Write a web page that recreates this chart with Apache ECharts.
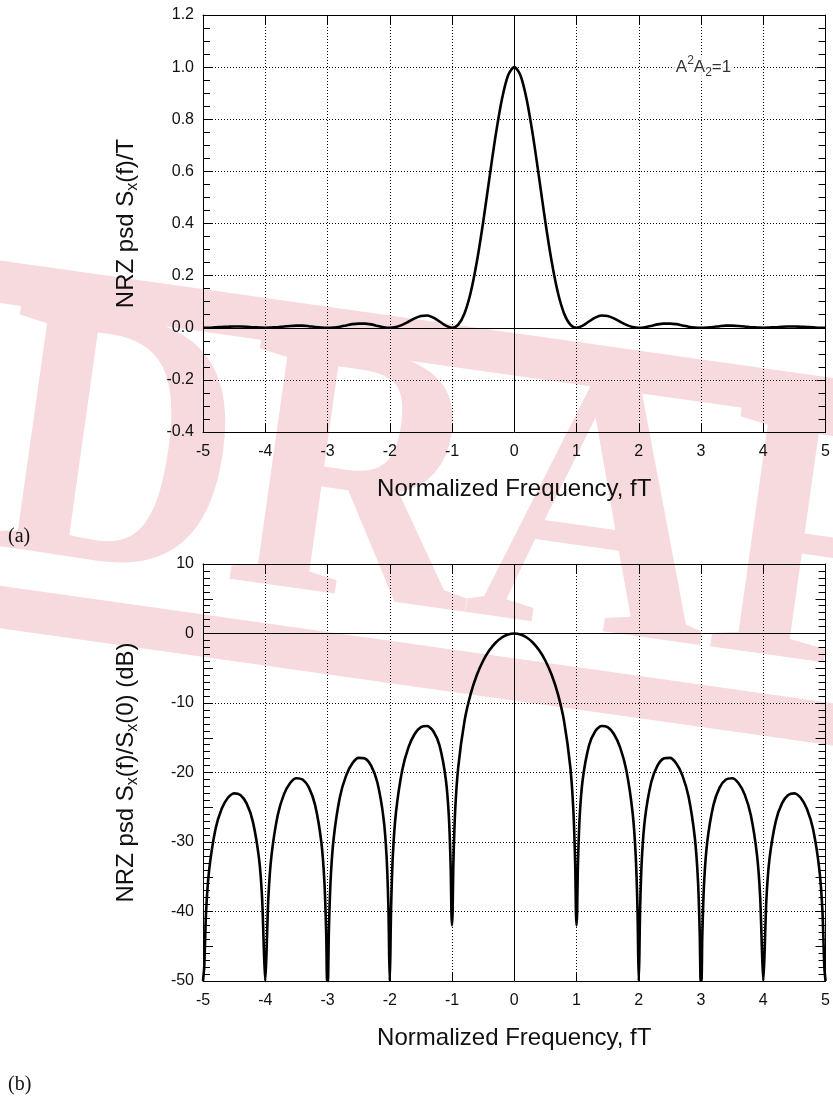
<!DOCTYPE html>
<html>
<head>
<meta charset="utf-8">
<title>NRZ power spectral density</title>
<script src="https://cdn.jsdelivr.net/npm/echarts@6/dist/echarts.min.js"></script>
<style>
  html, body { margin: 0; padding: 0; background: #fff; }
  #chart { width: 833px; height: 1097px; }
</style>
</head>
<body>
<div id="chart"></div>
<script>
// ---- data -------------------------------------------------------------
// (a) linear psd, sampled every 0.1 in fT
const freqLin = [
  -5.0,-4.9,-4.8,-4.7,-4.6,-4.5,-4.4,-4.3,-4.2,-4.1,
  -4.0,-3.9,-3.8,-3.7,-3.6,-3.5,-3.4,-3.3,-3.2,-3.1,
  -3.0,-2.9,-2.8,-2.7,-2.6,-2.5,-2.4,-2.3,-2.2,-2.1,
  -2.0,-1.9,-1.8,-1.7,-1.6,-1.5,-1.4,-1.3,-1.2,-1.1,
  -1.0,-0.9,-0.8,-0.7,-0.6,-0.5,-0.4,-0.3,-0.2,-0.1,
  0.0,
  0.1,0.2,0.3,0.4,0.5,0.6,0.7,0.8,0.9,1.0,
  1.1,1.2,1.3,1.4,1.5,1.6,1.7,1.8,1.9,2.0,
  2.1,2.2,2.3,2.4,2.5,2.6,2.7,2.8,2.9,3.0,
  3.1,3.2,3.3,3.4,3.5,3.6,3.7,3.8,3.9,4.0,
  4.1,4.2,4.3,4.4,4.5,4.6,4.7,4.8,4.9,5.0
];
const psdLin = [
  0.000,0.000,0.002,0.003,0.004,0.005,0.005,0.004,0.002,0.001,
  0.000,0.001,0.002,0.005,0.007,0.008,0.008,0.006,0.003,0.001,
  0.000,0.001,0.004,0.009,0.014,0.016,0.016,0.013,0.007,0.002,
  0.000,0.003,0.011,0.023,0.036,0.045,0.047,0.039,0.024,0.008,
  0.000,0.012,0.055,0.135,0.255,0.405,0.573,0.737,0.875,0.968,
  1.000,
  0.968,0.875,0.737,0.573,0.405,0.255,0.135,0.055,0.012,0.000,
  0.008,0.024,0.039,0.047,0.045,0.036,0.023,0.011,0.003,0.000,
  0.002,0.007,0.013,0.016,0.016,0.014,0.009,0.004,0.001,0.000,
  0.001,0.003,0.006,0.008,0.008,0.007,0.005,0.002,0.001,0.000,
  0.001,0.002,0.004,0.005,0.005,0.004,0.003,0.002,0.000,0.000
];

// (b) psd in dB, denser near the nulls
const freqDb = [
  -5.0,-4.98,-4.95,-4.9,
  -4.8,-4.7,-4.6,-4.5,-4.4,-4.3,-4.2,-4.1,
  -4.05,-4.02,-4.0,-3.98,-3.95,
  -3.9,-3.8,-3.7,-3.6,-3.5,-3.4,-3.3,-3.2,-3.1,
  -3.05,-3.02,-3.01,-3.0,-2.99,-2.98,-2.95,
  -2.9,-2.8,-2.7,-2.6,-2.5,-2.4,-2.3,-2.2,-2.1,
  -2.05,-2.02,-2.01,-2.0,-1.99,-1.98,-1.95,
  -1.9,-1.8,-1.7,-1.6,-1.5,-1.4,-1.3,-1.2,-1.1,
  -1.05,-1.02,-1.01,-1.0,-0.99,-0.98,-0.95,
  -0.9,-0.8,-0.7,-0.6,-0.5,-0.4,-0.3,-0.2,-0.1,
  0.0,
  0.1,0.2,0.3,0.4,0.5,0.6,0.7,0.8,0.9,
  0.95,0.98,0.99,1.0,1.01,1.02,1.05,
  1.1,1.2,1.3,1.4,1.5,1.6,1.7,1.8,1.9,
  1.95,1.98,1.99,2.0,2.01,2.02,2.05,
  2.1,2.2,2.3,2.4,2.5,2.6,2.7,2.8,2.9,
  2.95,2.98,2.99,3.0,3.01,3.02,3.05,
  3.1,3.2,3.3,3.4,3.5,3.6,3.7,3.8,3.9,
  3.95,3.98,4.0,4.02,4.05,
  4.1,4.2,4.3,4.4,4.5,4.6,4.7,4.8,
  4.9,4.95,4.98,5.0
];
const psdDb = [
  -50,-47.93,-39.95,-33.95,
  -28.18,-25.23,-23.63,-23.01,-23.25,-24.45,-27.03,-32.40,
  -38.21,-46.07,-50,-45.98,-37.99,
  -31.96,-26.16,-23.15,-21.51,-20.82,-21.01,-22.15,-24.66,-29.96,
  -35.74,-43.59,-49.57,-50,-49.51,-43.47,-35.45,
  -29.39,-23.50,-20.41,-18.68,-17.90,-17.98,-19.02,-21.41,-26.59,
  -32.29,-40.09,-46.07,-50,-45.98,-39.92,-31.86,
  -25.72,-19.67,-16.39,-14.46,-13.47,-13.30,-14.06,-16.14,-20.97,
  -26.48,-34.16,-40.09,-42,-39.92,-33.81,-25.61,
  -19.23,-12.62,-8.69,-5.94,-3.92,-2.42,-1.33,-0.58,-0.14,
  0,
  -0.14,-0.58,-1.33,-2.42,-3.92,-5.94,-8.69,-12.62,-19.23,
  -25.61,-33.81,-39.92,-42,-40.09,-34.16,-26.48,
  -20.97,-16.14,-14.06,-13.30,-13.47,-14.46,-16.39,-19.67,-25.72,
  -31.86,-39.92,-45.98,-50,-46.07,-40.09,-32.29,
  -26.59,-21.41,-19.02,-17.98,-17.90,-18.68,-20.41,-23.50,-29.39,
  -35.45,-43.47,-49.51,-50,-49.57,-43.59,-35.74,
  -29.96,-24.66,-22.15,-21.01,-20.82,-21.51,-23.15,-26.16,-31.96,
  -37.99,-45.98,-50,-46.07,-38.21,
  -32.40,-27.03,-24.45,-23.25,-23.01,-23.63,-25.23,-28.18,
  -33.95,-39.95,-47.93,-50
];

// axis ranges and annotation
const freqRange = [-5, 5];
const linRange = [-0.4, 1.2];
const dbRange = [-50, 10];
const noteAt = [3.04, 1.0];

// ---- styling helpers --------------------------------------------------
const SANS = '"Liberation Sans", Arial, sans-serif';
const SERIF = '"Liberation Serif", "Times New Roman", serif';
const INK = '#111';
const dotted = { color: '#000', width: 1, type: [1, 2] };

function zip(xs, ys) { return xs.map((x, i) => [x, ys[i]]); }

function xAxisPair(grid, name) {
  const base = {
    gridIndex: grid, type: 'value', min: freqRange[0], max: freqRange[1], interval: 1,
    axisLine: { show: true, onZero: false, lineStyle: { color: '#000', width: 1 } },
    axisTick: { show: true, inside: true, length: 9, lineStyle: { color: '#000', width: 1 } }
  };
  return [
    Object.assign({}, base, {
      position: 'bottom',
      axisLabel: { show: true, margin: 12, fontSize: 16, color: INK, fontFamily: SANS },
      splitLine: { show: true, lineStyle: dotted },
      name: name, nameLocation: 'middle', nameGap: 45,
      nameTextStyle: { fontSize: 24, color: INK, fontFamily: SANS }
    }),
    Object.assign({}, base, {
      position: 'top',
      axisLabel: { show: false }, splitLine: { show: false }
    })
  ];
}

function yAxisSet(grid, range, interval, minorSplit, fmt, name, rich) {
  const base = {
    gridIndex: grid, type: 'value', min: range[0], max: range[1], interval: interval,
    axisLine: { show: true, onZero: false, lineStyle: { color: '#000', width: 1 } },
    axisTick: { show: true, inside: true, length: 9, lineStyle: { color: '#000', width: 1 } },
    minorTick: { show: true, splitNumber: minorSplit, length: 7, lineStyle: { color: '#000', width: 1 } }
  };
  return [
    Object.assign({}, base, {
      position: 'left',
      axisLabel: { show: true, margin: 9, fontSize: 16, color: INK, fontFamily: SANS, formatter: fmt },
      splitLine: { show: true, lineStyle: dotted },
      name: name, nameLocation: 'middle', nameRotate: 90, nameGap: 62,
      nameTextStyle: { rich: rich }
    }),
    Object.assign({}, base, {
      position: 'right',
      axisLabel: { show: false }, splitLine: { show: false }
    })
  ];
}

function titleRich() {
  return {
    n: { fontSize: 24, color: INK, fontFamily: SANS, lineHeight: 30 },
    s: { fontSize: 16, color: INK, fontFamily: SANS, verticalAlign: 'bottom', lineHeight: 20 }
  };
}

// mid-decade ticks (every 5 dB) on both sides of the dB panel
function midTicks(grid, side) {
  return {
    gridIndex: grid, type: 'value', position: side, min: dbRange[0], max: dbRange[1], interval: 5,
    axisLine: { show: false, onZero: false },
    axisTick: { show: true, inside: true, length: 10, lineStyle: { color: '#000', width: 1 } },
    axisLabel: { show: false }, splitLine: { show: false }
  };
}

const zeroLines = {
  silent: true, symbol: ['none', 'none'], label: { show: false },
  lineStyle: { color: '#000', width: 1, type: 'solid' },
  emphasis: { disabled: true },
  data: [{ xAxis: 0 }, { yAxis: 0 }]
};

const curveStyle = { color: '#000', width: 2.6 };

// ---- DRAFT stamp drawn behind everything ------------------------------
const stampColor = '#f6dadd';
const stamp = {
  type: 'group', x: 430, y: 505, rotation: -0.14, z: -100, silent: true,
  children: [
    {
      type: 'rect', z: -100,
      shape: { x: -800, y: -161, width: 1600, height: 322, r: 20 },
      style: { fill: 'none', stroke: stampColor, lineWidth: 42 }
    },
    {
      type: 'text', z: -100, x: 140, y: 4, scaleX: 1.12, scaleY: 1.25,
      style: {
        text: 'DRAFT', fill: stampColor, font: 'bold 300px ' + SERIF,
        align: 'center', verticalAlign: 'middle'
      }
    }
  ]
};

const chart = echarts.init(document.getElementById('chart'), null, { renderer: 'canvas' });

chart.setOption({
  animation: false,
  backgroundColor: '#fff',
  grid: [
    { left: 203, right: 4, top: 15, height: 417, containLabel: false },
    { left: 203, right: 4, top: 564, height: 417, containLabel: false }
  ],
  xAxis: [].concat(
    xAxisPair(0, 'Normalized Frequency, fT'),
    xAxisPair(1, 'Normalized Frequency, fT')
  ),
  yAxis: [].concat(
    yAxisSet(0, linRange, 0.2, 4, v => v.toFixed(1),
      '{n|NRZ psd S}{s|x}{n|(f)/T}', titleRich()),
    yAxisSet(1, dbRange, 10, 10, v => String(v),
      '{n|NRZ psd S}{s|x}{n|(f)/S}{s|x}{n|(0) (dB)}', titleRich()),
    [midTicks(1, 'left'), midTicks(1, 'right')]
  ),
  graphic: {
    elements: [
      stamp,
      { type: 'text', left: 8, top: 527, z: 10,
        style: { text: '(a)', font: '20px ' + SERIF, fill: INK } },
      { type: 'text', left: 8, top: 1075, z: 10,
        style: { text: '(b)', font: '20px ' + SERIF, fill: INK } }
    ]
  },
  series: [
    {
      type: 'line', xAxisIndex: 0, yAxisIndex: 0,
      data: zip(freqLin, psdLin), showSymbol: false, smooth: 0.3,
      lineStyle: curveStyle, markLine: zeroLines, z: 3
    },
    {
      type: 'scatter', xAxisIndex: 0, yAxisIndex: 0, data: [noteAt],
      symbolSize: 0, silent: true, z: 4,
      label: {
        show: true, position: 'inside',
        formatter: '{n|A}{p|2}{n|A}{b|2}{n|=1}',
        backgroundColor: '#fff', padding: [0, 2],
        rich: {
          n: { fontSize: 17, color: '#000', fontFamily: SANS, lineHeight: 24 },
          p: { fontSize: 12, color: '#000', fontFamily: SANS, verticalAlign: 'top', lineHeight: 13 },
          b: { fontSize: 12, color: '#000', fontFamily: SANS, verticalAlign: 'bottom', lineHeight: 13 }
        }
      }
    },
    {
      type: 'line', xAxisIndex: 2, yAxisIndex: 2,
      data: zip(freqDb, psdDb), showSymbol: false, smooth: 0.25,
      lineStyle: curveStyle, markLine: zeroLines, z: 3
    }
  ]
});
</script>
</body>
</html>
